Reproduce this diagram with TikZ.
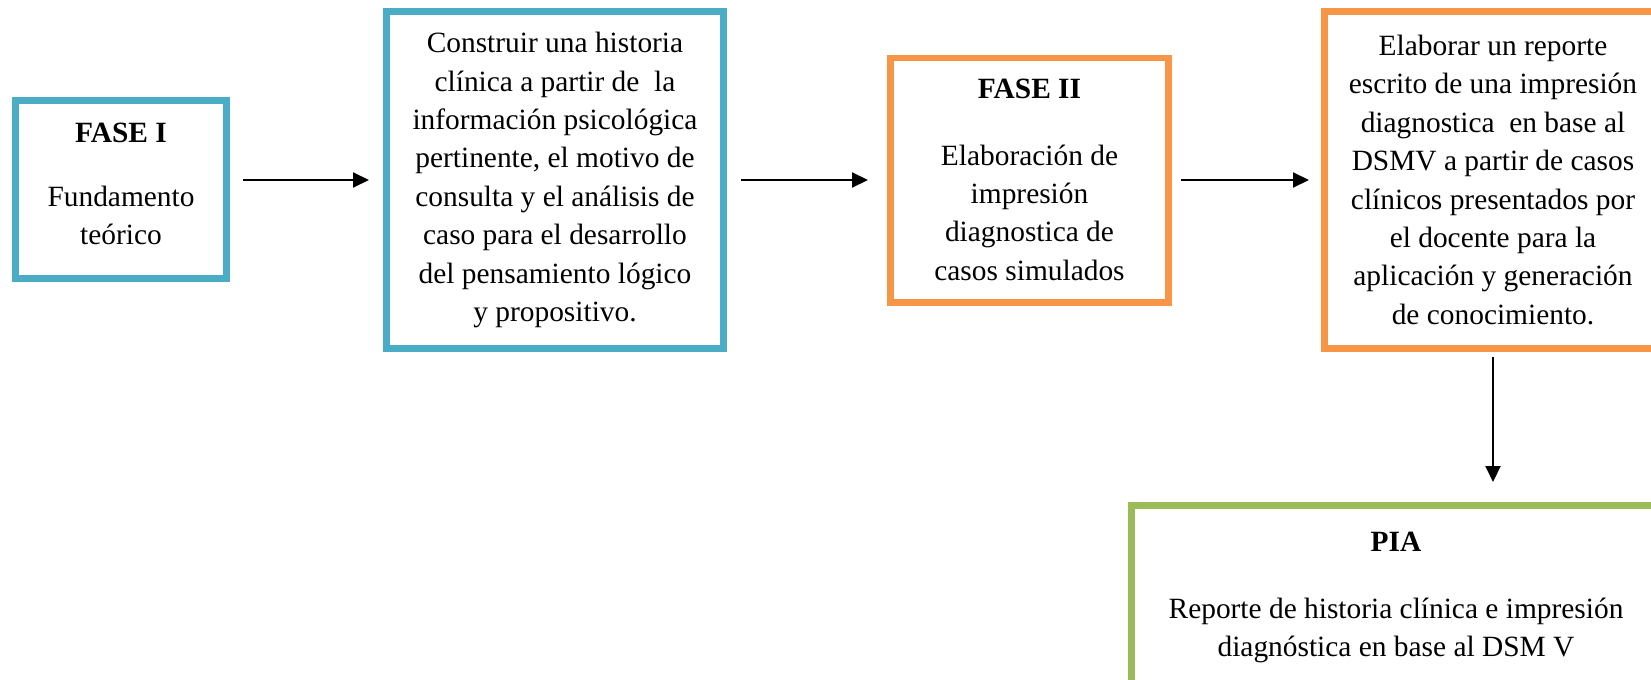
\documentclass[tikz,border=0pt]{standalone}
\usepackage{fontspec}
\setmainfont{Liberation Serif}
\usetikzlibrary{arrows.meta, positioning}
\definecolor{azul}{HTML}{4BACC6}
\definecolor{naranja}{HTML}{F79646}
\definecolor{verde}{HTML}{9BBB59}
\tikzstyle{caja} = [rectangle, line width=3.3pt, fill=white, align=center, inner sep=0pt, font=\fontsize{14.7pt}{19.2pt}\selectfont]
\tikzstyle{caja_azul} = [caja, draw=azul]
\tikzstyle{caja_naranja} = [caja, draw=naranja]
\tikzstyle{caja_verde} = [caja, draw=verde]
\tikzstyle{arrow} = [line width=1pt, -{Triangle[length=8pt,width=7.5pt]}]

\begin{document}
\begin{tikzpicture}
        \useasboundingbox (0,0) rectangle (825.5pt,-340pt);
        \clip (0,0) rectangle (825.5pt,-340pt);
        \node (historia_clinica) [caja_azul, minimum width=168.7pt, minimum height=168.7pt] at (277.5pt,-90pt) {Construir una historia\\ clínica a partir de\ \ la\\ información psicológica\\ pertinente, el motivo de\\ consulta y el análisis de\\ caso para el desarrollo\\ del pensamiento lógico\\ y propositivo.};
        \node (fase_uno) [caja_azul, minimum width=105.7pt, minimum height=89.2pt, text depth=5.5pt, left=76.5pt of historia_clinica, yshift=-4.75pt] {\textbf{FASE I}\\[12.5pt] Fundamento\\ teórico};
        \node (fase_dos) [caja_naranja, minimum width=139.2pt, minimum height=122.2pt, right=80pt of historia_clinica] {\textbf{FASE II}\\[14pt] Elaboración de\\ impresión\\ diagnostica de\\ casos simulados};
        \node (reporte) [caja_naranja, minimum width=168.7pt, minimum height=168.7pt, right=74.5pt of fase_dos] {Elaborar un reporte\\ escrito de una impresión\\ diagnostica\ \ en base al\\ DSMV a partir de casos\\ clínicos presentados por\\ el docente para la\\ aplicación y generación\\ de conocimiento.};
        \node (pia) [caja_verde, minimum width=264.7pt, minimum height=92.5pt, below=75pt of reporte.south west, anchor=north west, xshift=-96.5pt] {\textbf{PIA}\\[14pt] Reporte de historia clínica e impresión\\ diagnóstica en base al DSM V};

        \draw [arrow, shorten <=6.5pt, shorten >=7pt] (fase_uno.east |- historia_clinica.west) -- (historia_clinica.west);
        \draw [arrow, shorten <=7pt, shorten >=9.5pt] (historia_clinica.east) -- (fase_dos.west);
        \draw [arrow, shorten <=4.5pt, shorten >=6pt] (fase_dos.east) -- (reporte.west);
        \draw [arrow, shorten <=2.5pt, shorten >=10pt] (reporte.south) -- (reporte.south |- pia.north);
    \end{tikzpicture}
\end{document}
